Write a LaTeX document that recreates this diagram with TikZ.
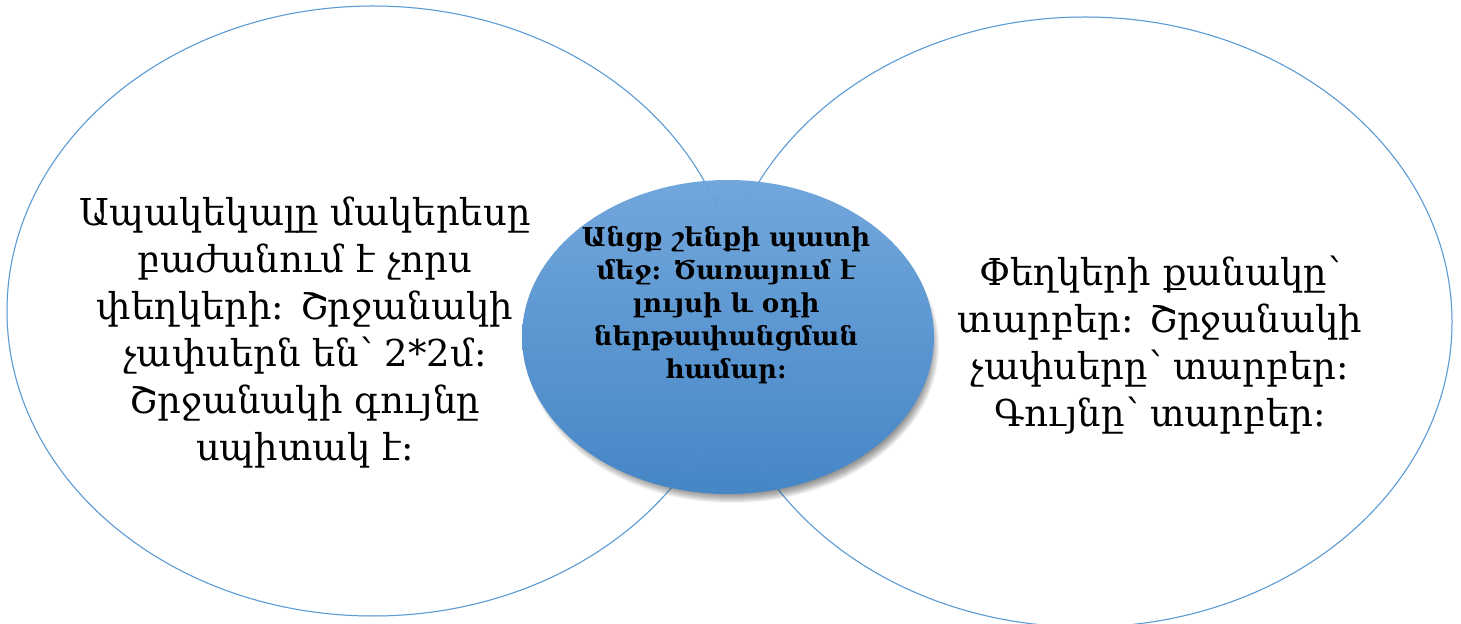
\documentclass[tikz,border=0pt]{standalone}
\usepackage{fontspec}
\setmainfont{DejaVu Serif}
\begin{document}
\begin{tikzpicture}[x=0.5pt,y=-0.5pt,
  bigell/.style={draw=blueline, line width=0.5pt},
  bigtext/.style={align=center, font=\fontsize{18.5}{23.5}\selectfont, text=black},
  midtext/.style={align=center, font=\bfseries\fontsize{13}{16.5}\selectfont, text=black}]
\definecolor{blueline}{HTML}{5B9BD5}
\definecolor{topblue}{HTML}{72A7DC}
\definecolor{botblue}{HTML}{4586C6}
\useasboundingbox (0,0) rectangle (1461,624);
\fill[white] (0,0) rectangle (1461,624);
% big ellipses
\draw[bigell] (373,311) ellipse [x radius=366, y radius=305];
\draw[bigell] (1085,322) ellipse [x radius=367, y radius=305];
% shadow of centre ellipse
\foreach \i in {0,...,9}{
  \fill[black, opacity=0.05] (732,346) ellipse [x radius=207-\i, y radius=157-\i];
}
% centre ellipse
\shade[top color=topblue, bottom color=botblue]
  (728,337) ellipse [x radius=206, y radius=157];
% outlines seen faintly through the centre ellipse
\draw[bigell, draw opacity=0.3] (373,311) ellipse [x radius=366, y radius=305];
\draw[bigell, draw opacity=0.3] (1085,322) ellipse [x radius=367, y radius=305];
\node[bigtext] (lt) at (305,333) {Ապակեկալը մակերեսը\\բաժանում է չորս\\փեղկերի: Շրջանակի\\չափսերն են՝ 2*2մ:\\Շրջանակի գույնը\\սպիտակ է:};
\node[midtext] (mt) at (726,305) {Անցք շենքի պատի\\մեջ: Ծառայում է\\լույսի և օդի\\ներթափանցման\\համար:};
\node[bigtext] (rt) at (1160,345) {Փեղկերի քանակը՝\\տարբեր: Շրջանակի\\չափսերը՝ տարբեր:\\Գույնը՝ տարբեր:};
\end{tikzpicture}
\end{document}
